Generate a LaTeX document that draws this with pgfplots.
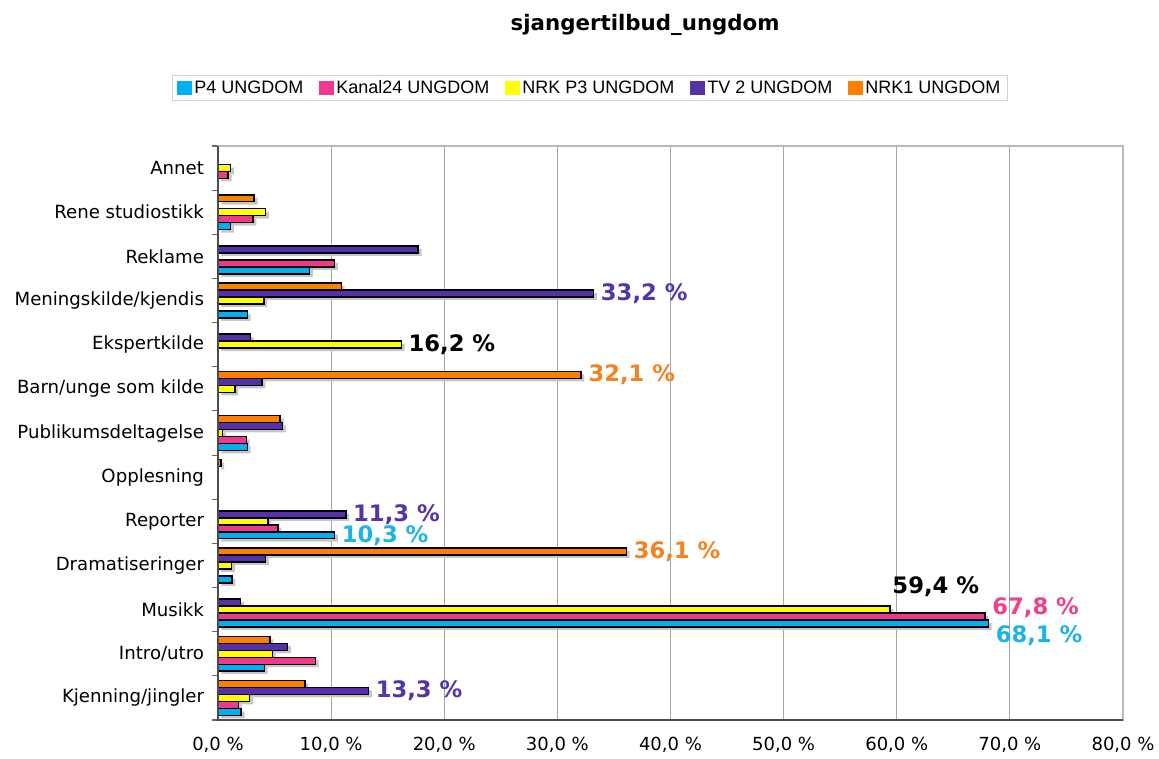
\documentclass[border=0pt]{standalone}
\usepackage{pgfplots}
\pgfplotsset{compat=1.18}
\usepackage{fontspec}
\setmainfont{DejaVu Sans}
\newfontfamily\legfont{Liberation Sans}
\usetikzlibrary{shadows}
\definecolor{cP4}{HTML}{00B0F0}
\definecolor{cK24}{HTML}{F0388C}
\definecolor{cP3}{HTML}{FFFF00}
\definecolor{cTV2}{HTML}{5530A8}
\definecolor{cNRK1}{HTML}{FF8000}
\definecolor{lcyan}{HTML}{1EB2E6}
\definecolor{lpink}{HTML}{F0408C}
\definecolor{lorange}{HTML}{F58220}
\definecolor{lpurple}{HTML}{5533AA}
\newcommand\lblfont{\bfseries\fontsize{17pt}{20pt}\selectfont}
\tikzset{barshadow/.style={drop shadow={shadow xshift=2.5pt, shadow yshift=-2.2pt, fill=gray!45, draw=none, opacity=1}}}
\begin{document}
\begin{tikzpicture}
\useasboundingbox (-163.5pt,-28.5pt) rectangle (705.75pt,540pt);
\begin{axis}[
  at={(0pt,0pt)}, anchor=south west,
  scale only axis, width=678.75pt, height=430.5pt,
  xbar, bar width=0.158,
  xmin=0, xmax=80, ymin=-0.5, ymax=12.5,
  xtick={0,10,...,80},
  xticklabel={\pgfmathprintnumber{\tick}\ \%},
  xticklabel style={/pgf/number format/.cd, fixed, fixed zerofill, precision=1, use comma, assume math mode=true, /tikz/.cd, font=\fontsize{13.5pt}{16pt}\selectfont, yshift=-9pt},
  ytick={0,...,12},
  yticklabels={Kjenning/jingler,Intro/utro,Musikk,Dramatiseringer,Reporter,Opplesning,Publikumsdeltagelse,Barn/unge som kilde,Ekspertkilde,Meningskilde/kjendis,Reklame,Rene studiostikk,Annet},
  yticklabel style={font=\fontsize{13.6pt}{16pt}\selectfont, xshift=-7pt},
  minor ytick={-0.5,0.5,...,12.5},
  tick pos=left,
  major tick length=0pt, minor tick length=4.5pt, tick align=outside,
  minor tick style={gray!80!black, line width=0.8pt},
  xmajorgrids, major grid style={gray!70, line width=0.8pt},
  axis line style={gray!55, line width=1.5pt},
  legend columns=5,
  legend style={at={(0.411,1.101)}, anchor=center, draw=gray!35, line width=0.8pt, fill=white,
    font=\legfont\fontsize{13.5pt}{16pt}\selectfont, inner xsep=3pt, inner ysep=1.5pt,
    /tikz/every even column/.append style={column sep=9.5pt}},
  legend image code/.code={\fill[#1] (0pt,-5.6pt) rectangle (11.25pt,5.6pt);},
  clip=false,
]
\addlegendimage{fill=cP4, draw=none}
\addlegendimage{fill=cK24, draw=none}
\addlegendimage{fill=cP3, draw=none}
\addlegendimage{fill=cTV2, draw=none}
\addlegendimage{fill=cNRK1, draw=none}
\legend{P4 UNGDOM,Kanal24 UNGDOM,NRK P3 UNGDOM,TV 2 UNGDOM,NRK1 UNGDOM}

% NRK1 (top)
\addplot[forget plot, fill=cNRK1, draw=black, line width=1.1pt, bar shift=0.316, barshadow]
  coordinates {(7.7,0) (4.6,1) (36.1,3) (0.25,5) (5.5,6) (32.1,7) (10.9,9) (3.2,11)};
% TV 2
\addplot[forget plot, fill=cTV2, draw=black, line width=1.1pt, bar shift=0.158, barshadow]
  coordinates {(13.3,0) (6.15,1) (2.0,2) (4.2,3) (11.3,4) (5.7,6) (3.9,7) (2.85,8) (33.2,9) (17.7,10)};
% NRK P3
\addplot[forget plot, fill=cP3, draw=black, line width=1.1pt, bar shift=0, barshadow]
  coordinates {(2.8,0) (4.8,1) (59.4,2) (1.2,3) (4.4,4) (0.4,6) (1.5,7) (16.2,8) (4.05,9) (4.2,11) (1.1,12)};
% Kanal24
\addplot[forget plot, fill=cK24, draw=black, line width=1.1pt, bar shift=-0.158, barshadow]
  coordinates {(1.8,0) (8.6,1) (67.8,2) (5.3,4) (2.5,6) (10.3,10) (3.1,11) (0.9,12)};
% P4
\addplot[forget plot, fill=cP4, draw=black, line width=1.1pt, bar shift=-0.316, barshadow]
  coordinates {(2.05,0) (4.1,1) (68.1,2) (1.25,3) (10.3,4) (2.6,6) (2.6,9) (8.1,10) (1.1,11)};

\draw[gray!60!black, line width=1pt] (axis description cs:0,1) -- (axis description cs:0,0) -- (axis description cs:1,0);

\node[anchor=west, font=\lblfont, text=lpurple, xshift=2pt] at (axis cs:33.2,9.158) {33,2 \%};
\node[anchor=west, font=\lblfont, text=black, xshift=2pt] at (axis cs:16.2,8) {16,2 \%};
\node[anchor=west, font=\lblfont, text=lorange, xshift=2pt] at (axis cs:32.1,7.316) {32,1 \%};
\node[anchor=west, font=\lblfont, text=lpurple, xshift=2pt] at (axis cs:11.3,4.158) {11,3 \%};
\node[anchor=west, font=\lblfont, text=lcyan, xshift=2pt] at (axis cs:10.3,3.684) {10,3 \%};
\node[anchor=west, font=\lblfont, text=lorange, xshift=2pt] at (axis cs:36.1,3.316) {36,1 \%};
\node[anchor=west, font=\lblfont, text=black, inner sep=0pt] at (axis cs:59.6,2.51) {59,4 \%};
\node[anchor=west, font=\lblfont, text=lpink, xshift=2pt] at (axis cs:67.8,2.04) {67,8 \%};
\node[anchor=west, font=\lblfont, text=lcyan, xshift=2pt] at (axis cs:68.1,1.40) {68,1 \%};
\node[anchor=west, font=\lblfont, text=lpurple, xshift=2pt] at (axis cs:13.3,0.158) {13,3 \%};

\node[font=\bfseries\fontsize{16pt}{19pt}\selectfont] at (axis description cs:0.472,1.211) {sjangertilbud\_ungdom};
\end{axis}
\end{tikzpicture}
\end{document}
